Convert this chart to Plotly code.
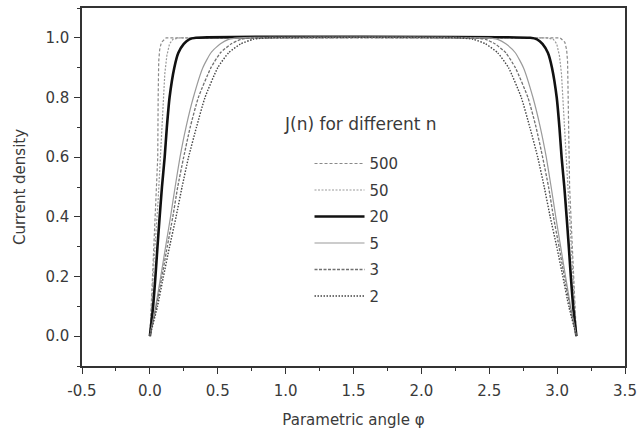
import plotly.graph_objects as go

# Series names (n values)
series_names = ["500", "50", "20", "5", "3", "2"]

# Parametric angle phi and current density J
phi_500 = [0, 0.02, 0.036, 0.05, 0.058, 0.061, 0.065, 0.072, 0.085, 0.12,
           3.022, 3.057, 3.070, 3.077, 3.081, 3.084, 3.092, 3.106, 3.122, 3.142]
j_500 = [0, 0.2, 0.36, 0.5, 0.6, 0.8, 0.92, 0.96, 0.985, 1.0,
         1.0, 0.985, 0.96, 0.92, 0.8, 0.6, 0.5, 0.36, 0.2, 0]

phi_50 = [0, 0.03, 0.06, 0.078, 0.09, 0.1, 0.11, 0.125, 0.145, 0.17, 0.22,
          2.922, 2.972, 2.997, 3.017, 3.032, 3.042, 3.052, 3.064, 3.082, 3.112, 3.142]
j_50 = [0, 0.25, 0.45, 0.6, 0.7, 0.8, 0.88, 0.94, 0.98, 0.995, 1.0,
        1.0, 0.995, 0.98, 0.94, 0.88, 0.8, 0.7, 0.6, 0.45, 0.25, 0]

phi_20 = [0, 0.024, 0.041, 0.056, 0.072, 0.089, 0.109, 0.125, 0.145, 0.18, 0.21, 0.25, 0.29, 0.34,
          2.802, 2.852, 2.892, 2.932, 2.962, 2.997, 3.017, 3.033, 3.053, 3.070, 3.086, 3.101, 3.118, 3.142]
j_20 = [0, 0.1, 0.2, 0.3, 0.4, 0.5, 0.6, 0.7, 0.8, 0.9, 0.95, 0.98, 0.995, 1.0,
        1.0, 0.995, 0.98, 0.95, 0.9, 0.8, 0.7, 0.6, 0.5, 0.4, 0.3, 0.2, 0.1, 0]

phi_5 = [0, 0.043, 0.08, 0.116, 0.152, 0.186, 0.222, 0.266, 0.32, 0.39, 0.45, 0.52, 0.58, 0.65,
         2.492, 2.562, 2.622, 2.692, 2.752, 2.822, 2.876, 2.920, 2.956, 2.990, 3.026, 3.062, 3.099, 3.142]
j_5 = [0, 0.1, 0.2, 0.3, 0.4, 0.5, 0.6, 0.7, 0.8, 0.9, 0.95, 0.98, 0.995, 1.0,
       1.0, 0.995, 0.98, 0.95, 0.9, 0.8, 0.7, 0.6, 0.5, 0.4, 0.3, 0.2, 0.1, 0]

phi_3 = [0, 0.048, 0.089, 0.128, 0.169, 0.205, 0.249, 0.297, 0.357, 0.45, 0.52, 0.6, 0.67, 0.76,
         2.382, 2.472, 2.542, 2.622, 2.692, 2.785, 2.845, 2.893, 2.937, 2.973, 3.014, 3.053, 3.094, 3.142]
j_3 = [0, 0.1, 0.2, 0.3, 0.4, 0.5, 0.6, 0.7, 0.8, 0.9, 0.95, 0.98, 0.995, 1.0,
       1.0, 0.995, 0.98, 0.95, 0.9, 0.8, 0.7, 0.6, 0.5, 0.4, 0.3, 0.2, 0.1, 0]

phi_2 = [0, 0.056, 0.1, 0.145, 0.193, 0.237, 0.285, 0.343, 0.406, 0.5, 0.58, 0.67, 0.76, 0.86,
         2.282, 2.382, 2.472, 2.562, 2.642, 2.736, 2.799, 2.857, 2.905, 2.949, 2.997, 3.042, 3.086, 3.142]
j_2 = [0, 0.1, 0.2, 0.3, 0.4, 0.5, 0.6, 0.7, 0.8, 0.9, 0.95, 0.98, 0.995, 1.0,
       1.0, 0.995, 0.98, 0.95, 0.9, 0.8, 0.7, 0.6, 0.5, 0.4, 0.3, 0.2, 0.1, 0]

x_ticks = [-0.5, 0.0, 0.5, 1.0, 1.5, 2.0, 2.5, 3.0, 3.5]
x_tick_labels = ["-0.5", "0.0", "0.5", "1.0", "1.5", "2.0", "2.5", "3.0", "3.5"]
y_ticks = [0.0, 0.2, 0.4, 0.6, 0.8, 1.0]
y_tick_labels = ["0.0", "0.2", "0.4", "0.6", "0.8", "1.0"]

xs = [phi_500, phi_50, phi_20, phi_5, phi_3, phi_2]
ys = [j_500, j_50, j_20, j_5, j_3, j_2]
styles = [
    dict(color="#8a8a8a", width=1.2, dash="3px,2px", shape="linear"),
    dict(color="#9a9a9a", width=1.2, dash="2px,1.5px", shape="linear"),
    dict(color="#111111", width=2.6, dash="solid", shape="spline"),
    dict(color="#9a9a9a", width=1.2, dash="solid", shape="spline"),
    dict(color="#707070", width=1.3, dash="3px,1.5px", shape="spline"),
    dict(color="#444444", width=1.4, dash="1.5px,1.5px", shape="spline"),
]

FONT = "DejaVu Sans"
TXT = "#3a3a3a"
fig = go.Figure()
for name, x, y, st in zip(series_names, xs, ys, styles):
    line = dict(color=st["color"], width=st["width"], dash=st["dash"], shape=st["shape"])
    if st["shape"] == "spline":
        line["smoothing"] = 0.5
    fig.add_trace(go.Scatter(x=x, y=y, mode="lines", name=name, legendgroup=name, line=line))

axis_common = dict(
    showline=True, linecolor="#333333", linewidth=1.5, mirror=True,
    ticks="outside", ticklen=6, tickwidth=1.2, tickcolor="#333333",
    showgrid=False, zeroline=False,
    tickfont=dict(family=FONT, size=15, color=TXT),
)

fig.update_xaxes(
    range=[-0.5, 3.5], tickvals=x_ticks, ticktext=x_tick_labels,
    minor=dict(ticks="outside", ticklen=3, tickcolor="#333333", dtick=0.25, tick0=-0.5),
    title=dict(text="Parametric angle \u03c6", font=dict(family=FONT, size=15, color=TXT), standoff=16),
    ticklabelstandoff=4, ticklabeloverflow="allow",
    **axis_common,
)
fig.update_yaxes(
    range=[-0.1, 1.1], tickvals=y_ticks, ticktext=y_tick_labels,
    minor=dict(ticks="outside", ticklen=3, tickcolor="#333333", dtick=0.1, tick0=0),
    title=dict(text="Current density", font=dict(family=FONT, size=15, color=TXT), standoff=16),
    ticklabelstandoff=2,
    **axis_common,
)

fig.add_annotation(
    text="J(n) for different n", xref="paper", yref="paper",
    x=(285 - 82) / 550, y=(366 - 123) / 360, xanchor="left", yanchor="middle",
    showarrow=False, font=dict(family=FONT, size=17, color=TXT),
)

fig.update_layout(
    width=643, height=442,
    margin=dict(l=82, r=11, t=6, b=76),
    paper_bgcolor="white", plot_bgcolor="white",
    font=dict(family=FONT, size=15, color=TXT),
    legend=dict(
        x=0.419, y=0.611, xanchor="left", yanchor="top",
        bgcolor="rgba(0,0,0,0)",
        font=dict(family=FONT, size=15, color=TXT),
        tracegroupgap=4, itemwidth=50,
    ),
    showlegend=True,
)

fig.write_html("out.html")
